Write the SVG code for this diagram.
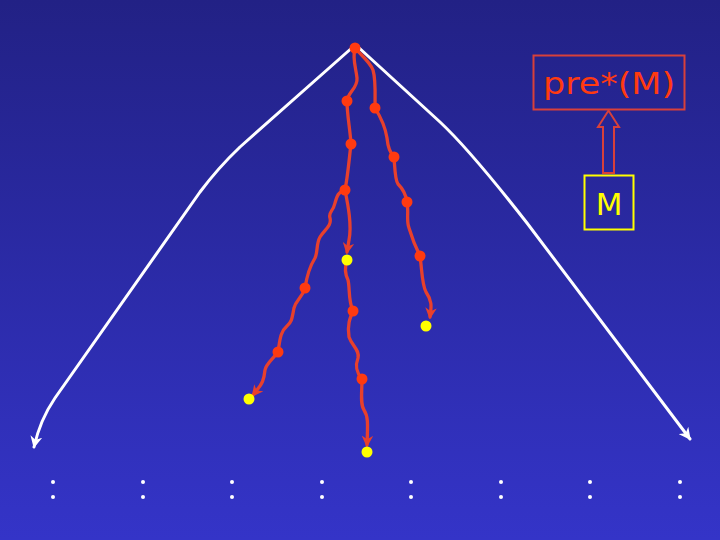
<svg xmlns="http://www.w3.org/2000/svg" width="720" height="540" viewBox="0 0 720 540">
<defs>
<linearGradient id="bg" x1="0" y1="0" x2="0" y2="1">
<stop offset="0" stop-color="#222185"/>
<stop offset="1" stop-color="#3434c8"/>
</linearGradient>
<marker id="wa" viewBox="0 0 10 10" refX="9" refY="5" markerWidth="4" markerHeight="4" orient="auto" markerUnits="strokeWidth">
<path d="M0,0 L10,5 L0,10 L3,5 z" fill="#ffffff"/>
</marker>
<marker id="ra" viewBox="0 0 10 10" refX="8" refY="5" markerWidth="3.5" markerHeight="3.5" orient="auto" markerUnits="strokeWidth">
<path d="M0,0 L10,5 L0,10 L3,5 z" fill="#e8402c"/>
</marker>
<style>
.w{fill:none;stroke:#ffffff;stroke-width:3;stroke-linecap:round;stroke-linejoin:round}
.r{fill:none;stroke:#e8402c;stroke-width:3.3;stroke-linecap:round;stroke-linejoin:round}
.rd{fill:#ff3a10}
.yd{fill:#ffff00}
.wd{fill:#ffffff}
.t{font-family:"DejaVu Sans","Liberation Sans",sans-serif}
</style>
</defs>
<rect width="720" height="540" fill="url(#bg)"/>
<g id="connectors">
<path class="w" d="M354,46 L240,147 Q218,168 200,192 L55,398 Q40,420 34,447" marker-end="url(#wa)"/>
<path class="w" d="M357,46 L440,122 Q470,150 527,223 L690,439" marker-end="url(#wa)"/>
<path class="r" d="M355,48 C352,58 356,68 357,78 C358,88 348,92 347,101"/>
<path class="r" d="M347,101 C347,115 350,128 351,144"/>
<path class="r" d="M351,144 C349,160 348,175 345,190"/>
<path class="r" d="M345,190 C348,205 352,225 349,240 L347,252" marker-end="url(#ra)"/>
<path class="r" d="M345,190 C338,192 337,196 335,203 C333,212 328,212 330,218 C332,226 324,230 320,237 C316,244 318,252 315,258 C310,266 307,275 305,288"/>
<path class="r" d="M305,288 C302,298 296,300 294,308 C292,318 292,322 287,326 C280,332 280,340 278,352"/>
<path class="r" d="M278,352 C272,360 266,364 265,370 C264,380 262,384 257,390 L253,395" marker-end="url(#ra)"/>
<path class="r" d="M355,48 C362,56 370,62 373,70 C376,80 375,95 375,108"/>
<path class="r" d="M375,108 C380,116 385,125 387,138 C388,148 390,152 394,157"/>
<path class="r" d="M394,157 C395,170 395,180 398,184 C404,190 406,195 407,202"/>
<path class="r" d="M407,202 C409,212 406,220 409,228 C412,238 416,248 420,256"/>
<path class="r" d="M420,256 C422,270 422,285 426,292 C433,302 431,308 430,317" marker-end="url(#ra)"/>
<path class="r" d="M347,260 C345,266 344,272 348,280 C350,288 348,300 353,311"/>
<path class="r" d="M353,311 C350,318 347,325 349,337 C352,346 360,350 358,358 C355,366 356,372 362,379"/>
<path class="r" d="M362,379 C362,392 360,404 364,410 C368,416 368,422 367,445" marker-end="url(#ra)"/>
</g>
<g id="apex"><circle class="rd" cx="355" cy="48" r="5.5"/></g>
<g id="n-l1"><circle class="rd" cx="347" cy="101" r="5.5"/></g>
<g id="n-l2"><circle class="rd" cx="351" cy="144" r="5.5"/></g>
<g id="n-l3"><circle class="rd" cx="345" cy="190" r="5.5"/></g>
<g id="y-mid1"><circle class="yd" cx="347" cy="260" r="5.5"/></g>
<g id="n-ll1"><circle class="rd" cx="305" cy="288" r="5.5"/></g>
<g id="n-ll2"><circle class="rd" cx="278" cy="352" r="5.5"/></g>
<g id="y-left"><circle class="yd" cx="249" cy="399" r="5.5"/></g>
<g id="n-r1"><circle class="rd" cx="375" cy="108" r="5.5"/></g>
<g id="n-r2"><circle class="rd" cx="394" cy="157" r="5.5"/></g>
<g id="n-r3"><circle class="rd" cx="407" cy="202" r="5.5"/></g>
<g id="n-r4"><circle class="rd" cx="420" cy="256" r="5.5"/></g>
<g id="y-right"><circle class="yd" cx="426" cy="326" r="5.5"/></g>
<g id="n-m1"><circle class="rd" cx="353" cy="311" r="5.5"/></g>
<g id="n-m2"><circle class="rd" cx="362" cy="379" r="5.5"/></g>
<g id="y-bottom"><circle class="yd" cx="367" cy="452" r="5.5"/></g>
<g id="pre-box">
<rect x="533.5" y="55.5" width="151" height="54" fill="none" stroke="#d8403a" stroke-width="2"/>
<text class="t" x="609" y="94" font-size="31" fill="#ff3a10" text-anchor="middle" textLength="132" lengthAdjust="spacingAndGlyphs">pre*(M)</text>
</g>
<g id="implies-arrow">
<path d="M603,173 L603,127 L598,127 L608.5,110.5 L619,127 L614,127 L614,173 Z" fill="none" stroke="#d8403a" stroke-width="2"/>
</g>
<g id="m-box">
<rect x="584.5" y="175.5" width="49" height="54" fill="none" stroke="#ffff00" stroke-width="2"/>
<text class="t" x="609" y="215" font-size="31" fill="#ffff00" text-anchor="middle">M</text>
</g>
<g id="ellipses">
<circle class="wd" cx="53" cy="482" r="2"/><circle class="wd" cx="53" cy="497" r="2"/>
<circle class="wd" cx="143" cy="482" r="2"/><circle class="wd" cx="143" cy="497" r="2"/>
<circle class="wd" cx="232" cy="482" r="2"/><circle class="wd" cx="232" cy="497" r="2"/>
<circle class="wd" cx="322" cy="482" r="2"/><circle class="wd" cx="322" cy="497" r="2"/>
<circle class="wd" cx="411" cy="482" r="2"/><circle class="wd" cx="411" cy="497" r="2"/>
<circle class="wd" cx="501" cy="482" r="2"/><circle class="wd" cx="501" cy="497" r="2"/>
<circle class="wd" cx="590" cy="482" r="2"/><circle class="wd" cx="590" cy="497" r="2"/>
<circle class="wd" cx="680" cy="482" r="2"/><circle class="wd" cx="680" cy="497" r="2"/>
</g>
</svg>
